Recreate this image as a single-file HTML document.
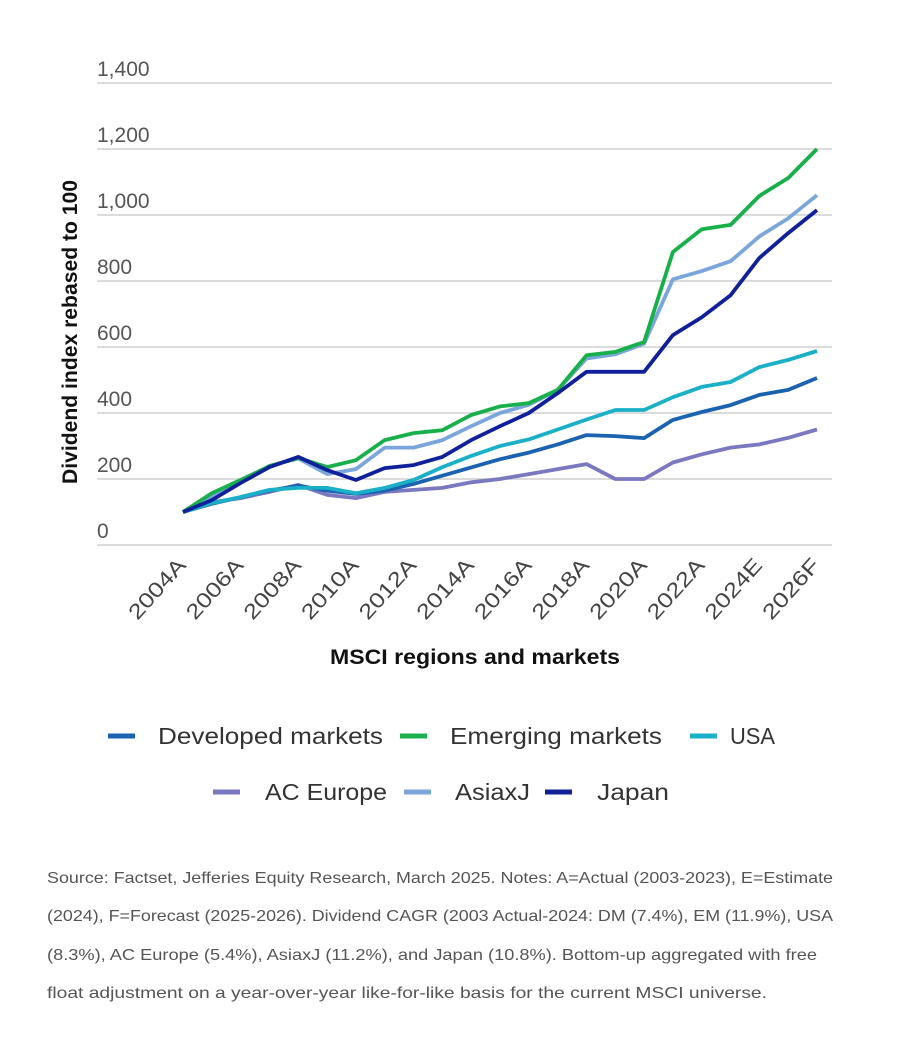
<!DOCTYPE html>
<html><head><meta charset="utf-8"><style>
body{margin:0;background:#fff;width:900px;height:1058px;overflow:hidden;font-family:"Liberation Sans",sans-serif}
</style></head><body>
<svg id="s" width="900" height="1058" xmlns="http://www.w3.org/2000/svg" font-family="Liberation Sans, sans-serif">
<g stroke="#cfcfcf" stroke-width="1.5">
<line x1="97" x2="832" y1="83" y2="83"/><line x1="97" x2="832" y1="149" y2="149"/>
<line x1="97" x2="832" y1="215" y2="215"/><line x1="97" x2="832" y1="281" y2="281"/>
<line x1="97" x2="832" y1="347" y2="347"/><line x1="97" x2="832" y1="413" y2="413"/>
<line x1="97" x2="832" y1="479" y2="479"/><line x1="97" x2="832" y1="545" y2="545"/>
</g>
<g font-size="21" fill="#555">
<text x="97" y="76">1,400</text><text x="97" y="142">1,200</text><text x="97" y="208">1,000</text>
<text x="97" y="274">800</text><text x="97" y="340">600</text><text x="97" y="406">400</text>
<text x="97" y="472">200</text><text x="97" y="538">0</text>
</g>
<text transform="translate(77,332) rotate(-90)" text-anchor="middle" font-size="21" font-weight="bold" fill="#111" textLength="304" lengthAdjust="spacingAndGlyphs">Dividend index rebased to 100</text>
<g id="ticks" font-size="21" fill="#444"></g>
<text x="330" y="664" font-size="21" font-weight="bold" fill="#111" textLength="290" lengthAdjust="spacingAndGlyphs">MSCI regions and markets</text>
<g id="lines" fill="none" stroke-width="3.8" stroke-linejoin="round"></g>
<g stroke-width="5">
<line x1="108" x2="135" y1="736" y2="736" stroke="#1b63b0"/>
<line x1="400" x2="427" y1="736" y2="736" stroke="#17b04a"/>
<line x1="690" x2="717" y1="736" y2="736" stroke="#1ab0c8"/>
<line x1="213" x2="240" y1="792" y2="792" stroke="#7a78c0"/>
<line x1="404" x2="431" y1="792" y2="792" stroke="#7aa6dc"/>
<line x1="545" x2="572" y1="792" y2="792" stroke="#10209a"/>
</g>
<g font-size="23" fill="#333">
<text x="158" y="744" textLength="225" lengthAdjust="spacingAndGlyphs">Developed markets</text>
<text x="450" y="744" textLength="212" lengthAdjust="spacingAndGlyphs">Emerging markets</text>
<text x="730" y="744" textLength="45" lengthAdjust="spacingAndGlyphs">USA</text>
<text x="265" y="800" textLength="122" lengthAdjust="spacingAndGlyphs">AC Europe</text>
<text x="455" y="800" textLength="75" lengthAdjust="spacingAndGlyphs">AsiaxJ</text>
<text x="597" y="800" textLength="72" lengthAdjust="spacingAndGlyphs">Japan</text>
</g>
<g font-size="16" fill="#555">
<text x="47" y="883" textLength="786" lengthAdjust="spacingAndGlyphs">Source: Factset, Jefferies Equity Research, March 2025. Notes:  A=Actual (2003-2023), E=Estimate</text>
<text x="47" y="921" textLength="786" lengthAdjust="spacingAndGlyphs">(2024), F=Forecast (2025-2026). Dividend CAGR (2003 Actual-2024: DM (7.4%), EM (11.9%), USA</text>
<text x="47" y="960" textLength="770" lengthAdjust="spacingAndGlyphs">(8.3%), AC Europe (5.4%), AsiaxJ (11.2%), and Japan (10.8%). Bottom-up aggregated with free</text>
<text x="47" y="998" textLength="720" lengthAdjust="spacingAndGlyphs">float adjustment on a year-over-year like-for-like basis for the current MSCI universe.</text>
</g>
</svg>
<script>
var NS="http://www.w3.org/2000/svg";
var S={
eu:["#7a78c0",[100,130,142,161,182,152,142,161,167,173,178,190,200,215,230,245,200,200,250,275,295,305,325,350]],
dm:["#1b63b0",[100,125,145,165,180,165,155,165,185,210,235,260,280,305,333,330,324,379,403,424,455,470,506]],
us:["#1ab0c8",[100,127,145,167,173,173,157,173,197,236,270,300,320,350,380,409,409,448,479,494,539,561,588]],
ax:["#7aa6dc",[100,145,190,240,262,215,230,295,295,318,360,400,425,470,565,578,610,805,830,860,935,990,1060]],
em:["#17b04a",[100,157,197,239,264,236,257,318,339,348,394,420,430,470,575,585,615,888,957,970,1058,1112,1200]],
jp:["#10209a",[100,136,188,236,267,227,197,233,242,267,318,360,400,460,525,525,525,636,690,757,870,945,1015]]};
S.eu[1].splice(10,1);
var g=document.getElementById("lines");
["eu","dm","us","ax","em","jp"].forEach(function(k){
 var p=S[k][1].map(function(v,i){return (183+28.82*i).toFixed(1)+","+(545-0.33*v).toFixed(1)}).join(" ");
 var l=document.createElementNS(NS,"polyline");l.setAttribute("points",p);l.setAttribute("stroke",S[k][0]);g.appendChild(l);});
var t=document.getElementById("ticks");
var labs=["2004A","2006A","2008A","2010A","2012A","2014A","2016A","2018A","2020A","2022A","2024E","2026F"];
labs.forEach(function(s,i){var x=187+57.64*i;var e=document.createElementNS(NS,"text");
 e.setAttribute("transform","translate("+x+",566) rotate(-48)");e.setAttribute("text-anchor","end");
 e.setAttribute("textLength","74");e.setAttribute("lengthAdjust","spacingAndGlyphs");e.textContent=s;t.appendChild(e);});
</script>
</body></html>
